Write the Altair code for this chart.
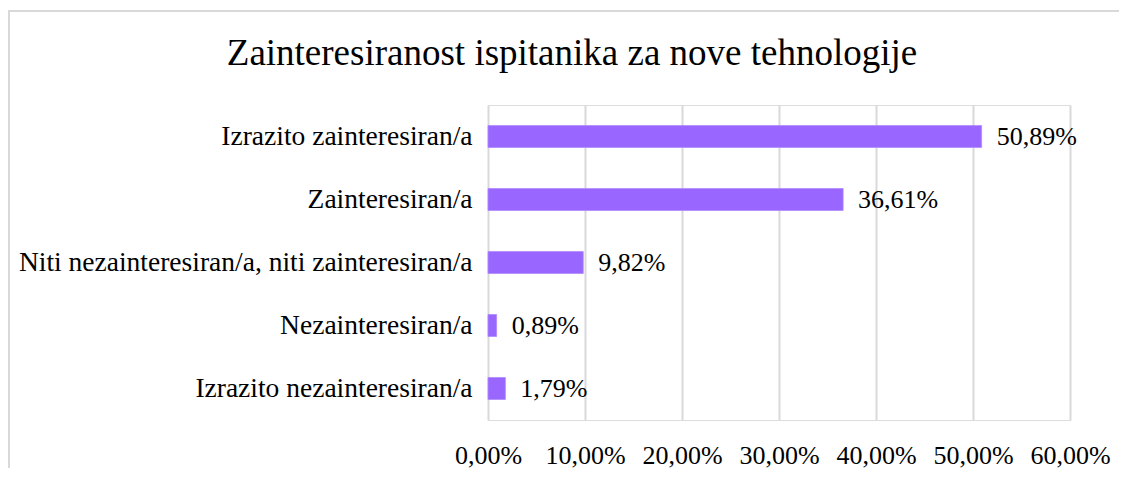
import altair as alt
import pandas as pd

categories = [
    "Izrazito zainteresiran/a",
    "Zainteresiran/a",
    "Niti nezainteresiran/a, niti zainteresiran/a",
    "Nezainteresiran/a",
    "Izrazito nezainteresiran/a",
]
values = [50.89, 36.61, 9.82, 0.89, 1.79]
ticks = [0, 10, 20, 30, 40, 50, 60]
title_text = "Zainteresiranost ispitanika za nove tehnologije"

df = pd.DataFrame({"cat": categories, "val": values})

FONT = "Liberation Serif"
FS = 26

x_enc = alt.X(
    "val:Q",
    scale=alt.Scale(domain=[0, 60], nice=False),
    axis=alt.Axis(
        values=ticks,
        labelExpr="replace(format(datum.value, '.2f'), '.', ',') + '%'",
        title=None,
        domain=False,
        ticks=False,
        grid=True,
        gridColor="#d9d9d9",
        gridWidth=2,
        labelFont=FONT,
        labelFontSize=FS,
        labelColor="#000000",
        labelPadding=22,
        labelOverlap=False,
        labelFlush=False,
        orient="bottom",
    ),
)
y_enc = alt.Y(
    "cat:N",
    sort=categories,
    scale=alt.Scale(paddingInner=0.65, paddingOuter=0.325),
    axis=alt.Axis(
        title=None,
        domain=False,
        ticks=False,
        grid=False,
        labelFont=FONT,
        labelFontSize=27.5,
        labelColor="#000000",
        labelPadding=16,
        labelLimit=600,
    ),
)

bars = alt.Chart(df).mark_bar(color="#9966FF", stroke="#b08cff", strokeWidth=0.8).encode(
    x=x_enc, y=y_enc
)

labels = (
    alt.Chart(df)
    .transform_calculate(lbl="replace(format(datum.val, '.2f'), '.', ',') + '%'")
    .mark_text(align="left", baseline="middle", dx=15, font=FONT, fontSize=FS, color="#000000")
    .encode(x="val:Q", y=alt.Y("cat:N", sort=categories), text="lbl:N")
)

frame = alt.Chart(df).mark_rect(fill=None, stroke="#d9d9d9", strokeWidth=2).encode(
    x=alt.value(-479), x2=alt.value(1200), y=alt.value(-94), y2=alt.value(600)
)

title = (
    alt.Chart(pd.DataFrame({"t": [title_text]}))
    .mark_text(font=FONT, fontSize=37, color="#000000", align="center", baseline="alphabetic")
    .encode(text="t:N", x=alt.value(84), y=alt.value(-40))
)

chart = (
    alt.layer(frame, bars, labels, title)
    .properties(
        width=582,
        height=315,
        autosize=alt.AutoSizeParams(type="none"),
        padding={"left": 480, "top": 97, "right": 49, "bottom": 48},
    )
    .configure_view(strokeWidth=0, stroke="transparent")
    .configure(background="#ffffff")
)

chart.save("out.html", embed_options={"renderer": "svg", "actions": False})
